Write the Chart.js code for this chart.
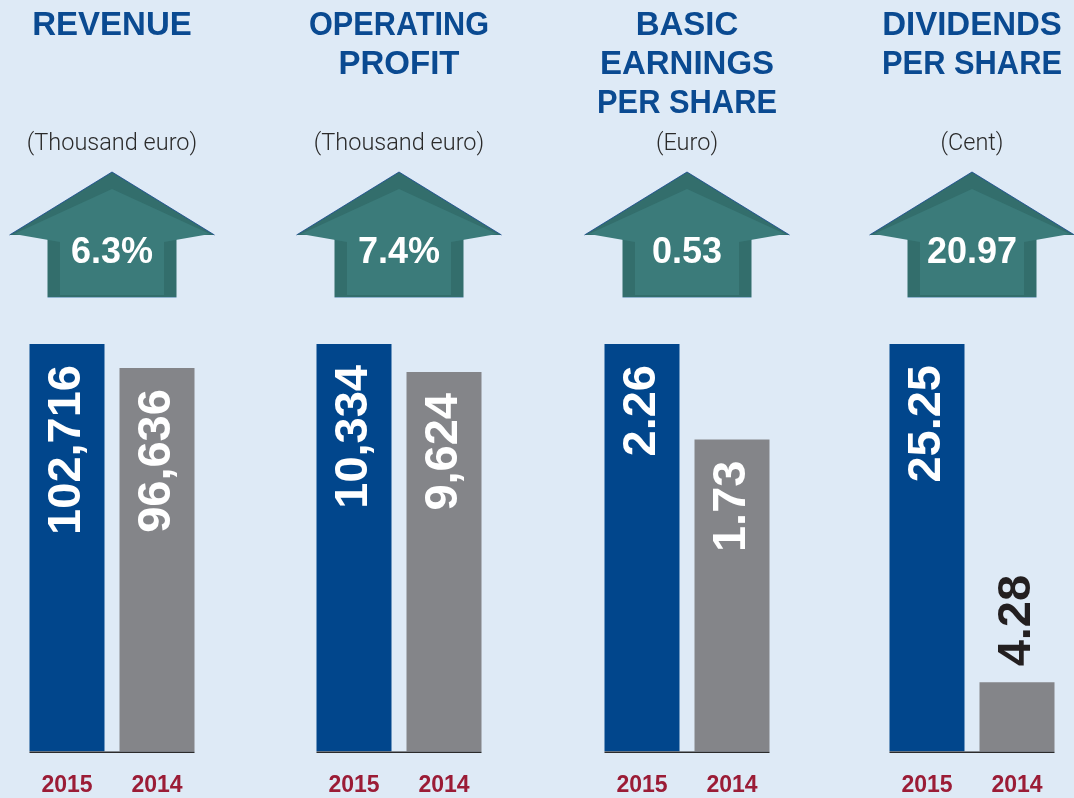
<!DOCTYPE html>
<html>
<head>
<meta charset="utf-8">
<script src="https://cdn.jsdelivr.net/npm/chart.js@4.4.0/dist/chart.umd.min.js"></script>
<style>
  html, body { margin: 0; padding: 0; background: #deeaf6; width: 1074px; height: 798px; overflow: hidden; }
  .panel { position: absolute; top: 0; width: 220px; height: 819px; }
</style>
</head>
<body>
<div class="panel" style="left:2px"><canvas id="c0" width="220" height="819"></canvas></div>
<div class="panel" style="left:289px"><canvas id="c1" width="220" height="819"></canvas></div>
<div class="panel" style="left:577px"><canvas id="c2" width="220" height="819"></canvas></div>
<div class="panel" style="left:862px"><canvas id="c3" width="220" height="819"></canvas></div>
<script>
const years = ['2015', '2014'];
const titles = [['REVENUE'], ['OPERATING', 'PROFIT'], ['BASIC', 'EARNINGS', 'PER SHARE'], ['DIVIDENDS', 'PER SHARE']];
const units = ['(Thousand euro)', '(Thousand euro)', '(Euro)', '(Cent)'];
const revenue = [102716, 96636];
const operatingProfit = [10334, 9624];
const basicEps = [2.26, 1.73];
const dividendsPerShare = [25.25, 4.28];
const changes = ['6.3%', '7.4%', '0.53', '20.97'];
const decimals = [0, 0, 2, 2];

const FONT = '"Liberation Sans", Arial, Helvetica, sans-serif';
const series = [revenue, operatingProfit, basicEps, dividendsPerShare];

// teal arrow with the change value
const arrowPlugin = {
  id: 'arrow',
  afterDraw(chart, args, opts) {
    const ctx = chart.ctx;
    const cx = (chart.chartArea.left + chart.chartArea.right) / 2;
    ctx.save();
    ctx.translate(cx, 0);
    // outer (darker bevel)
    ctx.fillStyle = '#336e6c';
    ctx.beginPath();
    ctx.moveTo(0, 172);
    ctx.lineTo(102.5, 235);
    ctx.lineTo(64.5, 235);
    ctx.lineTo(64.5, 297);
    ctx.lineTo(-64.5, 297);
    ctx.lineTo(-64.5, 235);
    ctx.lineTo(-102.5, 235);
    ctx.closePath();
    ctx.fill();
    // inner face
    ctx.fillStyle = '#3b7b7a';
    ctx.beginPath();
    ctx.moveTo(0, 189);
    ctx.lineTo(98, 234);
    ctx.lineTo(52, 242);
    ctx.lineTo(52, 295);
    ctx.lineTo(-52, 295);
    ctx.lineTo(-52, 242);
    ctx.lineTo(-98, 234);
    ctx.closePath();
    ctx.fill();
    // edges
    ctx.strokeStyle = 'rgba(20,70,140,0.8)';
    ctx.lineWidth = 1;
    ctx.beginPath();
    ctx.moveTo(-102.5, 235);
    ctx.lineTo(0, 172);
    ctx.lineTo(102.5, 235);
    ctx.stroke();
    ctx.strokeStyle = '#8fb3cf';
    ctx.beginPath();
    ctx.moveTo(-64.5, 297.5);
    ctx.lineTo(64.5, 297.5);
    ctx.stroke();
    // value
    ctx.fillStyle = '#ffffff';
    ctx.font = 'bold 36px ' + FONT;
    ctx.textAlign = 'center';
    ctx.textBaseline = 'middle';
    ctx.fillText(opts.text, 0, 253);
    ctx.restore();
  }
};

// rotated value labels + baseline
const barLabels = {
  id: 'barLabels',
  afterDatasetsDraw(chart, args, opts) {
    const ctx = chart.ctx;
    const meta = chart.getDatasetMeta(0);
    const values = chart.data.datasets[0].data;
    const fmt = new Intl.NumberFormat('en-US', { minimumFractionDigits: opts.decimals, maximumFractionDigits: opts.decimals });
    ctx.save();
    ctx.font = 'bold 47px ' + FONT;
    ctx.textBaseline = 'middle';
    meta.data.forEach((bar, i) => {
      const txt = fmt.format(values[i]);
      const w = ctx.measureText(txt).width;
      const h = bar.base - bar.y;
      ctx.save();
      if (w + 42 <= h) {
        ctx.translate(bar.x, bar.y + 21);
        ctx.rotate(-Math.PI / 2);
        ctx.textAlign = 'right';
        ctx.fillStyle = '#ffffff';
      } else {
        ctx.translate(bar.x, bar.y - 16);
        ctx.rotate(-Math.PI / 2);
        ctx.textAlign = 'left';
        ctx.fillStyle = '#231f20';
      }
      ctx.fillText(txt, 0, 0);
      ctx.restore();
    });
    const first = meta.data[0], last = meta.data[meta.data.length - 1];
    ctx.strokeStyle = '#2b2b2b';
    ctx.lineWidth = 1.5;
    ctx.beginPath();
    ctx.moveTo(first.x - first.width / 2, first.base + 0.75);
    ctx.lineTo(last.x + last.width / 2, last.base + 0.75);
    ctx.stroke();
    ctx.restore();
  }
};

series.forEach((data, k) => {
  const n = titles[k].length;
  new Chart(document.getElementById('c' + k), {
    type: 'bar',
    data: {
      labels: years,
      datasets: [{
        data: data,
        backgroundColor: ['#01468c', '#848589'],
        barPercentage: 0.8333,
        categoryPercentage: 1
      }]
    },
    options: {
      responsive: false,
      animation: false,
      layout: { padding: { left: 20, right: 20, top: 0, bottom: 0 } },
      plugins: {
        legend: { display: false },
        tooltip: { enabled: false },
        title: {
          display: true,
          text: titles[k],
          color: '#0a4a91',
          font: { family: FONT, size: 33, weight: 'bold', lineHeight: 39 / 33 },
          padding: { top: 6.5, bottom: 124.3 - 39 * n }
        },
        subtitle: {
          display: true,
          text: units[k],
          color: '#2a2a2a',
          font: { family: 'Roboto, ' + FONT, size: 23.5, weight: '300', lineHeight: 26.4 / 23.5 },
          padding: { top: 0, bottom: 186.8 }
        },
        arrow: { text: changes[k] },
        barLabels: { decimals: decimals[k] }
      },
      scales: {
        y: { display: false, min: 0, max: Math.max(...data) },
        x: {
          grid: { display: false, drawTicks: false },
          border: { display: false },
          ticks: {
            color: '#9b1c36',
            padding: 20,
            font: { family: FONT, size: 23, weight: 'bold' }
          }
        }
      }
    },
    plugins: [arrowPlugin, barLabels]
  });
});
</script>
</body>
</html>
